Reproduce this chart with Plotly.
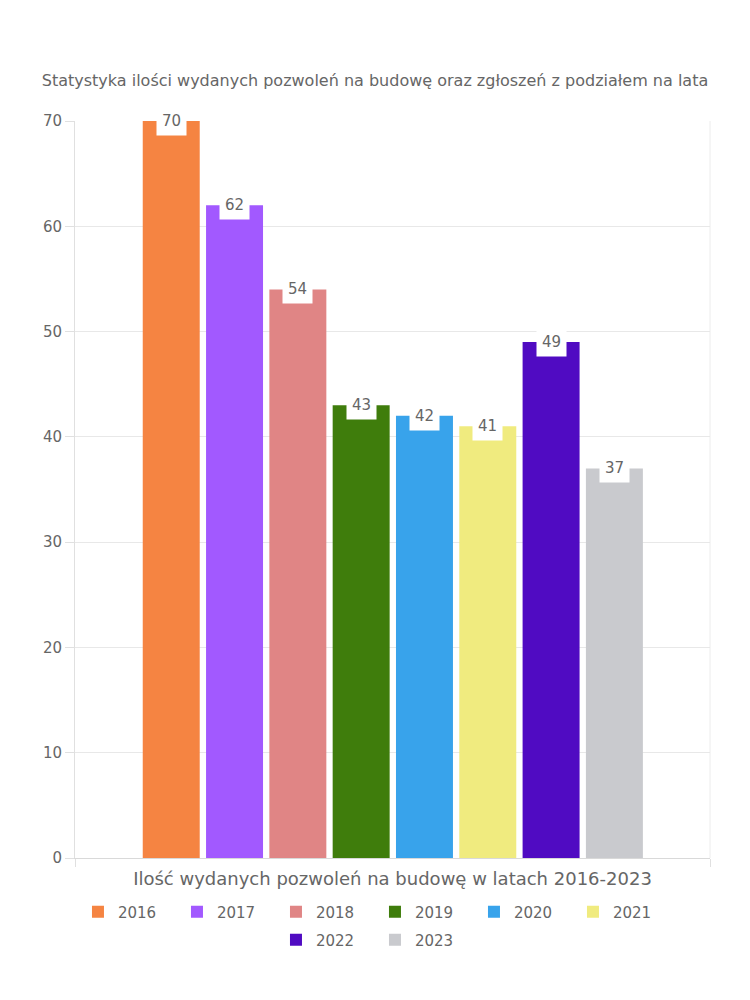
import plotly.graph_objects as go

years = ["2016", "2017", "2018", "2019", "2020", "2021", "2022", "2023"]
values = [70, 62, 54, 43, 42, 41, 49, 37]
colors = ["#F58442", "#A259FF", "#E08585", "#3F7D0C", "#38A3EB", "#F0EB7F", "#500BC2", "#C9CACE"]

title_text = "Statystyka ilości wydanych pozwoleń na budowę oraz zgłoszeń z podziałem na lata"
x_title = "Ilość wydanych pozwoleń na budowę w latach 2016-2023"
y_ticks = [0, 10, 20, 30, 40, 50, 60, 70]

FONT = "DejaVu Sans"
GREY = "#666666"
X_RANGE = [-1.52, 8.51]

fig = go.Figure()
for i, (yr, v, c) in enumerate(zip(years, values, colors)):
    fig.add_trace(go.Bar(
        x=[i], y=[v], name=yr, width=0.9,
        marker=dict(color=c, line=dict(width=0)),
        hoverinfo="name+y",
        legend="legend" if i < 6 else "legend2",
    ))
    fig.add_annotation(
        x=i, y=v, xref="x", yref="y", text=str(v), showarrow=False,
        yanchor="middle", xanchor="center",
        bgcolor="white", borderpad=5,
        font=dict(family=FONT, size=15, color=GREY),
    )

legend_common = dict(orientation="h", xanchor="center", yanchor="top",
                     entrywidth=54, font=dict(family=FONT, size=15, color=GREY),
                     itemclick=False, itemdoubleclick=False,
                     xref="paper", x=0.4724)

fig.update_layout(
    width=750, height=1000,
    barmode="overlay",
    plot_bgcolor="white", paper_bgcolor="white",
    margin=dict(l=75, r=40, t=121, b=142, autoexpand=False),
    font=dict(family=FONT, size=15, color=GREY),
    title=dict(text=title_text, x=0.5, xanchor="center", xref="container",
               y=1 - 80 / 1000, yanchor="middle", yref="container",
               font=dict(family=FONT, size=16, color=GREY)),
    xaxis=dict(range=X_RANGE, tickvals=X_RANGE, showticklabels=False, showgrid=False,
               zeroline=False, showline=True, linecolor="#d9d9d9", mirror=False,
               ticks="outside", ticklen=8, tickcolor="#e0e0e0",
               title=dict(text=x_title, standoff=6,
                          font=dict(family=FONT, size=18, color=GREY)),
               fixedrange=True),
    yaxis=dict(range=[0, 70], tickvals=y_ticks, showgrid=True, gridcolor="#e8e8e8",
               zeroline=False, showline=True, linecolor="#e0e0e0",
               ticks="outside", ticklen=9, tickcolor="#e0e0e0",
               tickfont=dict(family=FONT, size=15, color=GREY)),
    legend=dict(y=-0.051, **legend_common),
    legend2=dict(y=-0.089, **legend_common),
    showlegend=True,
)
# right border of plot area
fig.add_shape(type="line", xref="paper", yref="paper", x0=1, x1=1, y0=0, y1=1,
              line=dict(color="#ececec", width=1), layer="below")

fig.write_html("out.html")
